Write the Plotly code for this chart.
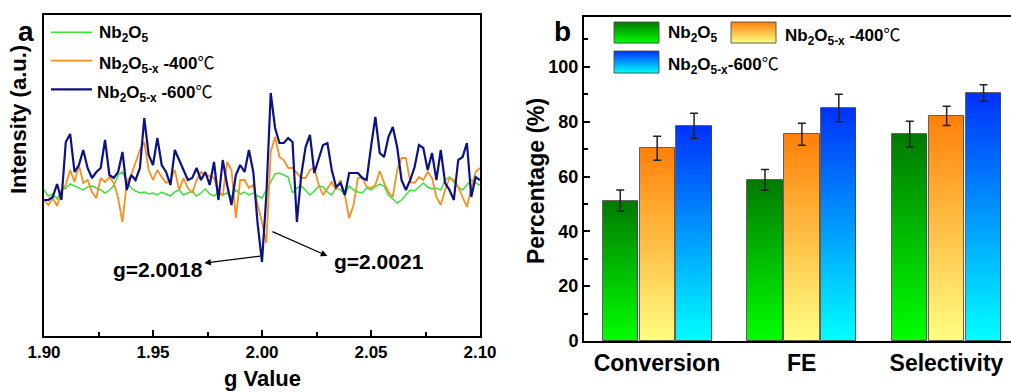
import plotly.graph_objects as go

# ---------------- panel a: EPR spectra ----------------
g_value = [1.900, 1.902, 1.904, 1.906, 1.908, 1.910, 1.912, 1.914, 1.916, 1.918,
           1.920, 1.922, 1.924, 1.926, 1.928, 1.930, 1.932, 1.934, 1.936, 1.938,
           1.940, 1.942, 1.944, 1.946, 1.948, 1.950, 1.952, 1.954, 1.956, 1.958,
           1.960, 1.962, 1.964, 1.966, 1.968, 1.970, 1.972, 1.974, 1.976, 1.978,
           1.980, 1.982, 1.984, 1.986, 1.988, 1.990, 1.992, 1.994, 1.996, 1.998,
           2.000, 2.002, 2.004, 2.006, 2.008, 2.010, 2.012, 2.014, 2.016, 2.018,
           2.020, 2.022, 2.024, 2.026, 2.028, 2.030, 2.032, 2.034, 2.036, 2.038,
           2.040, 2.042, 2.044, 2.046, 2.048, 2.050, 2.052, 2.054, 2.056, 2.058,
           2.060, 2.062, 2.064, 2.066, 2.068, 2.070, 2.072, 2.074, 2.076, 2.078,
           2.080, 2.082, 2.084, 2.086, 2.088, 2.090, 2.092, 2.094, 2.096, 2.098,
           2.100]

epr_nb2o5 = [146, 140, 142, 137, 146, 148, 152, 150, 148, 146, 149, 150, 148, 146, 143, 146,
             150, 161, 164, 154, 148, 145, 143, 144, 142, 143,
             141, 144, 142, 140, 144, 146, 141, 143, 145, 140, 143, 147, 142, 140, 144, 141,
             143, 139, 146, 142, 144, 141, 143, 140,
             138, 146, 154, 162, 163, 161, 159, 143, 148, 150, 146, 141, 145, 150, 149, 144,
             141, 149, 146, 142, 150, 146, 144,
             143, 148, 146, 149, 152, 150, 141, 137, 133, 136, 141, 146, 145, 149, 153, 149,
             147, 148, 146, 156, 159, 154, 149, 146, 151, 156, 153, 151]

epr_nb2o5x_400 = [136, 131, 138, 130, 146, 151, 166, 154, 171, 153, 156, 144, 138, 158, 154, 159,
                  153, 138, 114, 154, 161, 174, 186, 194, 166, 156,
                  166, 159, 153, 156, 166, 146, 158, 148, 143, 156, 164, 161, 160, 158, 143, 141,
                  174, 166, 118, 156, 156, 148, 151, 131,
                  114, 93, 184, 199, 179, 176, 168, 168, 163, 158, 158, 166, 168, 151, 141, 148,
                  154, 146, 156, 141, 118, 131, 158,
                  159, 149, 148, 151, 165, 153, 144, 139, 166, 178, 178, 154, 153, 159, 156, 164,
                  158, 139, 131, 146, 158, 156, 149, 139, 129, 148, 164, 168]

epr_nb2o5x_600 = [136, 136, 139, 152, 136, 194, 202, 164, 171, 186, 168, 158, 164, 168, 196, 161,
                  158, 164, 184, 146, 161, 156, 168, 218, 181, 171,
                  198, 171, 164, 151, 186, 176, 166, 156, 158, 168, 156, 164, 151, 174, 136, 176,
                  151, 131, 161, 171, 164, 186, 164, 112,
                  74, 141, 243, 208, 193, 193, 198, 194, 114, 161, 189, 201, 163, 176, 191, 193,
                  166, 149, 153, 141, 163, 163, 163,
                  158, 156, 189, 219, 183, 179, 199, 209, 189, 156, 146, 156, 169, 191, 188, 166,
                  183, 156, 186, 153, 146, 136, 176, 179, 193, 139, 159, 156]

epr_names = ["Nb<sub>2</sub>O<sub>5</sub>",
             "Nb<sub>2</sub>O<sub>5-x</sub> -400℃",
             "Nb<sub>2</sub>O<sub>5-x</sub> -600℃"]
epr_colors = ["#3AE23A", "#F7901E", "#0C1285"]
epr_widths = [1.5, 1.8, 2.2]
g_ticks = [1.90, 1.95, 2.00, 2.05, 2.10]
g_ticktext = ["1.90", "1.95", "2.00", "2.05", "2.10"]
g_marks = ["g=2.0018", "g=2.0021"]

# ---------------- panel b: bar chart ----------------
categories = ["Conversion", "FE", "Selectivity"]
pct_nb2o5 = [51.2, 58.8, 75.5]
err_nb2o5 = [3.9, 3.8, 4.7]
pct_400 = [70.3, 75.4, 82.1]
err_400 = [4.4, 4.0, 3.5]
pct_600 = [78.5, 85.0, 90.5]
err_600 = [4.6, 5.0, 3.0]
pct_ticks = [0, 20, 40, 60, 80, 100]
bar_names = ["Nb<sub>2</sub>O<sub>5</sub>",
             "Nb<sub>2</sub>O<sub>5-x</sub> -400℃",
             "Nb<sub>2</sub>O<sub>5-x</sub>-600℃"]
# gradient (top colour, bottom colour)
bar_grad = [((0, 122, 0), (0, 255, 0)),
            ((255, 128, 10), (255, 255, 130)),
            ((0, 50, 250), (0, 255, 255))]

W, H = 1011, 392
FONT = "Liberation Sans, Arial, sans-serif"
DEG = '<span style="font-family:Noto Sans CJK SC;font-weight:normal">℃</span>'


def fmt(s):
    return s.replace("℃", DEG)


def lerp(c1, c2, f):
    return "rgb(%d,%d,%d)" % tuple(round(a + (b - a) * f) for a, b in zip(c1, c2))


def px(x):
    return x / W


def py(y):
    return 1 - y / H


def bold(size):
    return dict(family=FONT, size=size, color="black", weight="bold")


fig = go.Figure()

# panel a lines
for yv, nm, col, lw in zip([epr_nb2o5, epr_nb2o5x_400, epr_nb2o5x_600], epr_names, epr_colors, epr_widths):
    fig.add_trace(go.Scatter(x=g_value, y=yv, mode="lines", name=nm,
                             line=dict(color=col, width=lw), xaxis="x", yaxis="y",
                             showlegend=False, hoverinfo="skip"))

# panel b gradient bars (stacked thin segments)
NSEG = 48
bar_width = 0.243
offsets = [-0.375, -0.12, 0.135]
for vals, errs, (ctop, cbot), off in zip([pct_nb2o5, pct_400, pct_600],
                                         [err_nb2o5, err_400, err_600], bar_grad, offsets):
    for i in range(NSEG):
        f = (i + 0.5) / NSEG
        fig.add_trace(go.Bar(x=categories, y=[v / NSEG for v in vals],
                             base=[v * i / NSEG for v in vals],
                             offset=off, width=bar_width,
                             marker=dict(color=lerp(cbot, ctop, f), line=dict(width=0)),
                             xaxis="x2", yaxis="y2", showlegend=False, hoverinfo="skip"))
    fig.add_trace(go.Bar(x=categories, y=vals, offset=off, width=bar_width,
                         marker=dict(color="rgba(0,0,0,0)", line=dict(color="rgba(70,70,70,0.85)", width=1)),
                         error_y=dict(type="data", array=errs, color="#222", thickness=1.5, width=4),
                         xaxis="x2", yaxis="y2", showlegend=False, hoverinfo="skip"))

shapes = []
annotations = []


def paper_text(x, y, text, size, xanchor="center", angle=0):
    annotations.append(dict(xref="paper", yref="paper", x=px(x), y=py(y), text=text,
                            showarrow=False, xanchor=xanchor, yanchor="middle",
                            textangle=angle, font=bold(size)))


# legend panel a
leg_a_y = [32.3, 60.7, 89.3]
leg_a_tx = [97, 97, 95]
for nm, col, lw, yy, tx in zip(epr_names, epr_colors, epr_widths, leg_a_y, leg_a_tx):
    shapes.append(dict(type="line", xref="paper", yref="paper", x0=px(51), x1=px(92),
                       y0=py(yy), y1=py(yy), line=dict(color=col, width=lw)))
    paper_text(tx, yy + 2, fmt(nm), 17, xanchor="left")

# legend panel b
boxes = [(614, 659, 22, 43), (731, 776, 22, 43), (614, 659, 51, 73)]
box_tx = [(666, 32.5), (783, 32.5), (666, 62)]
for nm, (ctop, cbot), (x0, x1, y0, y1), (tx, ty) in zip(bar_names, bar_grad, boxes, box_tx):
    n = int(y1 - y0)
    for k in range(n):
        f = (k + 0.5) / n
        shapes.append(dict(type="rect", xref="paper", yref="paper", x0=px(x0), x1=px(x1),
                           y0=py(y0 + k), y1=py(y0 + k + 1.3), line=dict(width=0),
                           fillcolor=lerp(ctop, cbot, f), layer="above"))
    shapes.append(dict(type="rect", xref="paper", yref="paper", x0=px(x0), x1=px(x1),
                       y0=py(y0), y1=py(y1), line=dict(color="rgba(70,70,70,0.85)", width=1),
                       fillcolor="rgba(0,0,0,0)", layer="above"))
    paper_text(tx, ty + 2, fmt(nm), 17, xanchor="left")

# g markers with arrows (arrowhead at the label)
annotations.append(dict(xref="x", yref="y", x=1.9735, y=73, ax=1.9999, ay=80, axref="x", ayref="y",
                        text="", showarrow=True, arrowhead=2, arrowsize=1.1, arrowwidth=1.2,
                        arrowcolor="black", standoff=0, startstandoff=0))
annotations.append(dict(xref="x", yref="y", x=2.0300, y=80, ax=2.0041, ay=105, axref="x", ayref="y",
                        text="", showarrow=True, arrowhead=2, arrowsize=1.1, arrowwidth=1.2,
                        arrowcolor="black", standoff=0, startstandoff=0))
annotations.append(dict(xref="x", yref="y", x=1.9523, y=67, text=g_marks[0], showarrow=False,
                        xanchor="center", yanchor="middle", font=bold(21)))
annotations.append(dict(xref="x", yref="y", x=2.0537, y=75, text=g_marks[1], showarrow=False,
                        xanchor="center", yanchor="middle", font=bold(21)))

# panel letters and axis titles
paper_text(26, 32, "a", 28)
paper_text(562, 31, "b", 28)
paper_text(18, 120, "Intensity (a.u.)", 22, angle=-90)
paper_text(262, 378, "g Value", 22)
paper_text(536, 181, "Percentage (%)", 23, angle=-90)

tickfont = bold(17)

fig.update_layout(
    template="none",
    width=W, height=H, margin=dict(l=0, r=0, t=0, b=0, pad=0, autoexpand=False),
    paper_bgcolor="white", plot_bgcolor="white", showlegend=False,
    barmode="overlay", bargap=0, bargroupgap=0,
    font=dict(family=FONT, color="black"),
    xaxis=dict(domain=[px(44), px(480)], range=[1.9, 2.1], tickvals=g_ticks, ticktext=g_ticktext,
               ticks="inside", ticklen=6, tickwidth=2, tickcolor="black",
               minor=dict(ticks="inside", ticklen=4, tickwidth=1.5, tickcolor="black",
                          tickvals=[1.925, 1.975, 2.025, 2.075]),
               showline=True, linewidth=2, linecolor="black", mirror=True, automargin=False,
               showgrid=False, zeroline=False, tickfont=tickfont, anchor="y"),
    yaxis=dict(domain=[py(336), py(15)], range=[0, 321], showticklabels=False, ticks="",
               showline=True, linewidth=2, linecolor="black", mirror=True, automargin=False,
               showgrid=False, zeroline=False, anchor="x"),
    xaxis2=dict(domain=[px(584), 1.0], range=[-0.504, 2.446], type="category",
                ticks="", showline=True, linewidth=2, linecolor="black", mirror=True,
                showgrid=False, zeroline=False, anchor="y2", automargin=False,
                tickfont=bold(23)),
    yaxis2=dict(domain=[py(341), py(17)], range=[0, 118.2], tickvals=pct_ticks,
                ticks="inside", ticklen=6, tickwidth=2, tickcolor="black",
                minor=dict(ticks="inside", ticklen=4, tickwidth=1.5, tickcolor="black",
                           tickvals=[10, 30, 50, 70, 90, 110]),
                showline=True, linewidth=2, linecolor="black", mirror=False, automargin=False,
                showgrid=False, zeroline=False, anchor="x2",
                tickfont=bold(18)),
    shapes=shapes, annotations=annotations,
)

fig.write_html("out.html")
